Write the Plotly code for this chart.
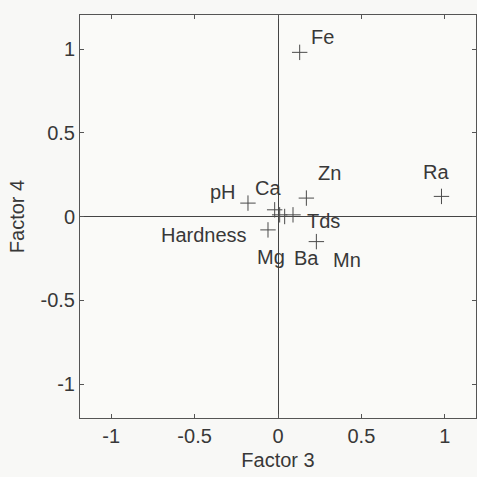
import plotly.graph_objects as go

# Factor 3 / Factor 4 loadings of the water-quality variables
variables = ["Fe", "Zn", "Ra", "pH", "Ca", "Tds", "Hardness", "Mg", "Ba", "Mn"]
factor3 = [0.13, 0.17, 0.98, -0.18, -0.02, 0.09, -0.06, 0.01, 0.04, 0.23]
factor4 = [0.98, 0.11, 0.12, 0.08, 0.04, 0.01, -0.08, 0.01, 0.00, -0.15]

tick_vals = [-1, -0.5, 0, 0.5, 1]
tick_text = ["-1", "-0.5", "0", "0.5", "1"]

# label placement relative to each marker (pixels, right / up)
label_shift = {
    "Fe": (23, 15), "Zn": (23, 25), "Ra": (-5, 24), "pH": (-25, 11),
    "Ca": (-7, 22), "Tds": (30, -6), "Hardness": (-64, -5),
    "Mg": (-9, -42), "Ba": (22, -41), "Mn": (31, -18),
}

ink = "#383838"
font = dict(family="Liberation Sans, Arial, sans-serif", size=20, color=ink)

fig = go.Figure()
fig.add_trace(go.Scatter(
    x=factor3, y=factor4, mode="markers",
    marker=dict(symbol="cross-thin-open", size=11, color="#4a4a4a",
                line=dict(width=1, color="#4a4a4a")),
    hoverinfo="text", text=variables, showlegend=False,
))

for name, x, y in zip(variables, factor3, factor4):
    dx, dy = label_shift[name]
    fig.add_annotation(x=x, y=y, text=name, showarrow=False,
                       xshift=dx, yshift=dy, font=font)

axis_common = dict(
    tickvals=tick_vals, ticktext=tick_text, ticks="inside", ticklen=4,
    tickcolor="#555555", showline=True, linecolor="#555555", linewidth=1,
    mirror="ticks", showgrid=False, zeroline=True, zerolinecolor="#444444",
    zerolinewidth=1, tickfont=font,
)

fig.update_xaxes(range=[-1.187, 1.187],
                 title=dict(text="Factor 3", font=font, standoff=6),
                 **axis_common)
fig.update_yaxes(range=[-1.203, 1.203],
                 title=dict(text="Factor 4", font=font, standoff=10),
                 **axis_common)

fig.update_layout(
    width=477, height=477,
    margin=dict(l=80, r=1, t=15, b=59),
    paper_bgcolor="#f8f8f6", plot_bgcolor="#fafaf8",
    font=font,
)

fig.write_html("out.html")
